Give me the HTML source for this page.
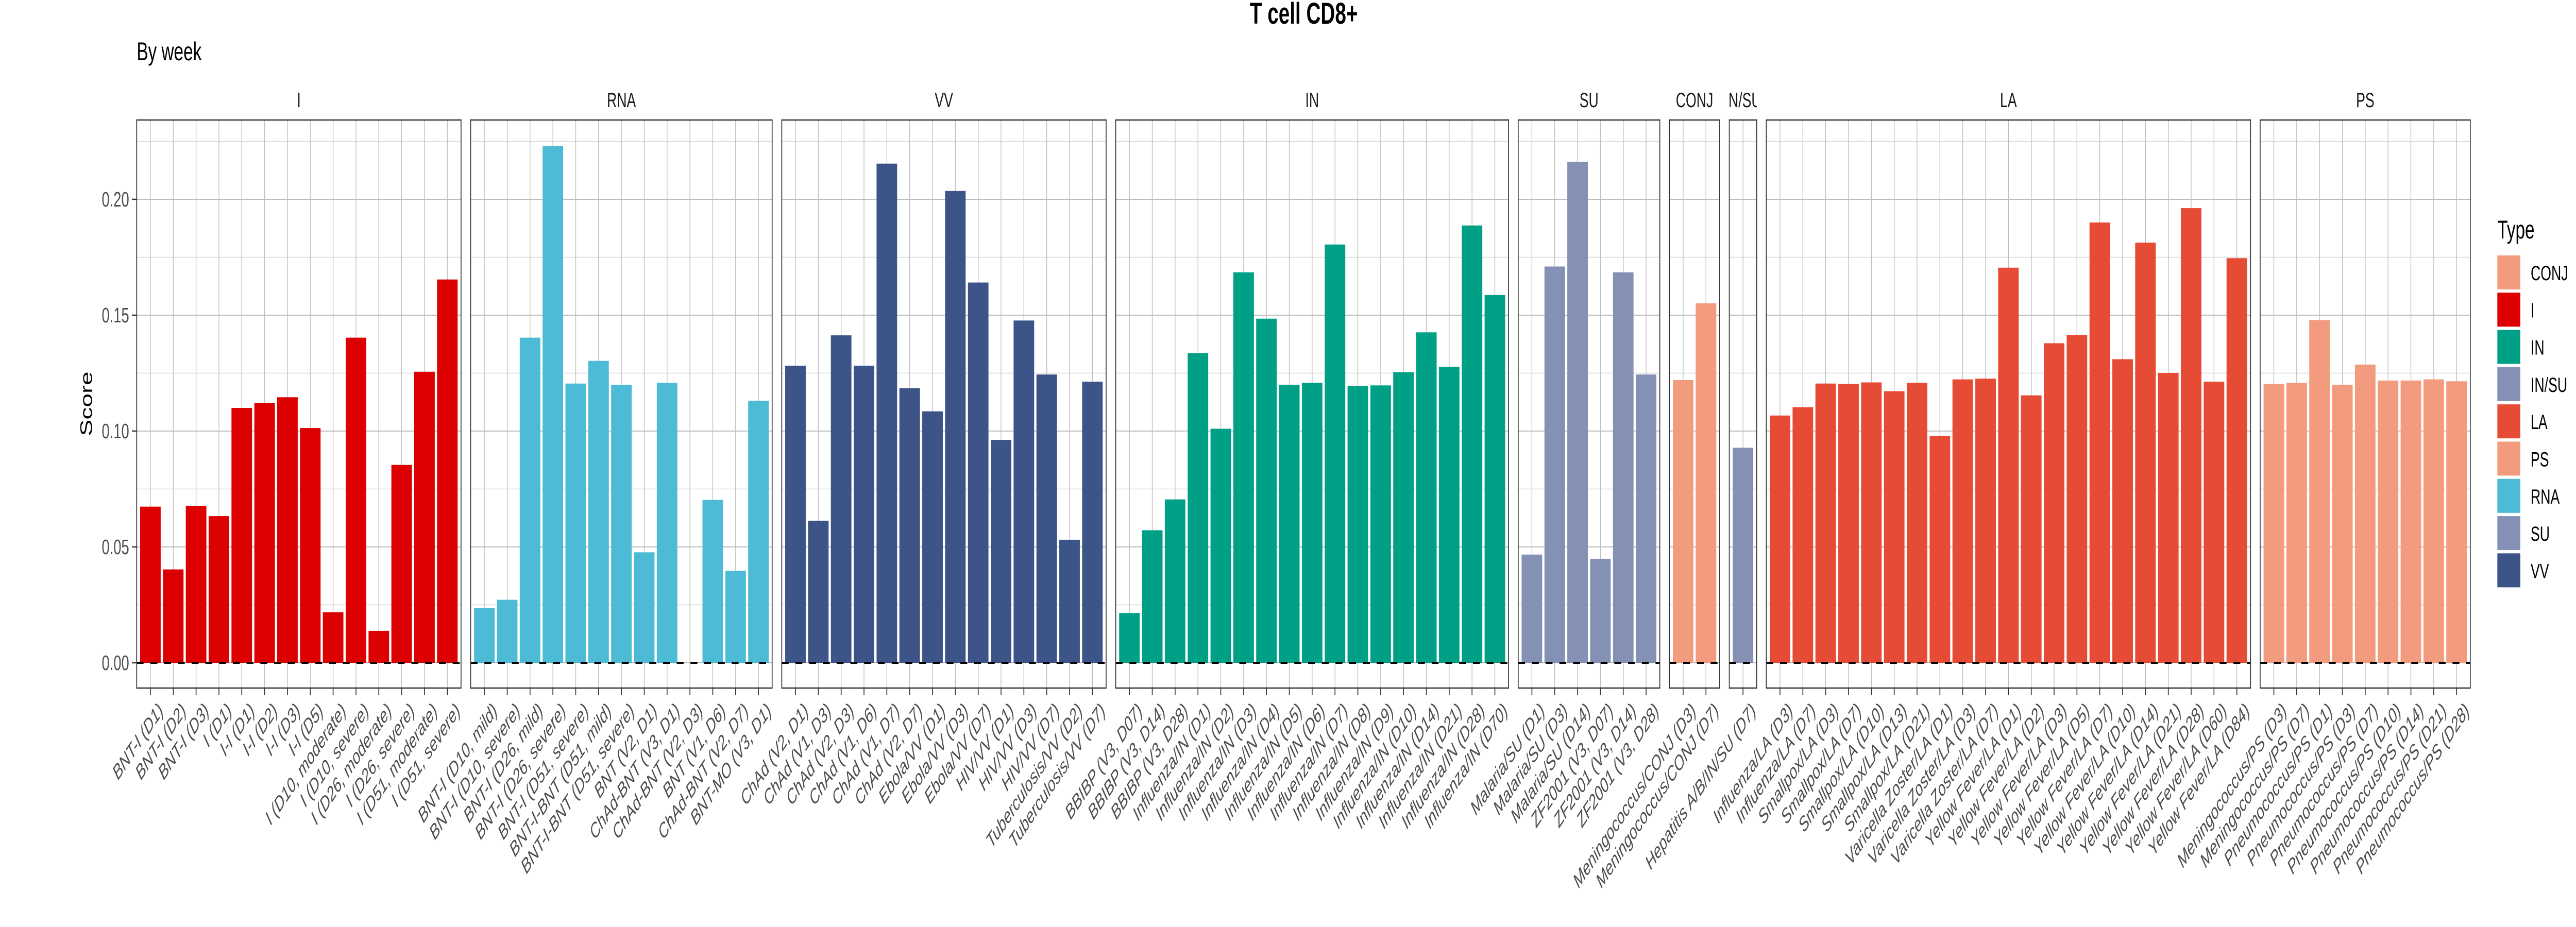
<!DOCTYPE html>
<html><head><meta charset="utf-8"><style>
html,body{margin:0;padding:0;background:#fff;width:100%;height:100%;overflow:hidden;}
svg{display:block;font-family:"Liberation Sans",sans-serif;width:100vw;height:100vh;}
</style></head><body>
<svg id="chart" xmlns="http://www.w3.org/2000/svg" viewBox="0 0 7500 1800" preserveAspectRatio="none">
<rect x="0" y="0" width="7500" height="1800" fill="#fff"/>
<text x="3796" y="46" text-anchor="middle" font-size="58" font-weight="bold" fill="#000">T cell CD8+</text>
<text x="398" y="117" font-size="50" fill="#000">By week</text>
<text transform="translate(268,784) rotate(-90)" text-anchor="middle" font-size="48" fill="#000">Score</text>
<g id="panels"></g>
<g id="legend"></g>
</svg>
<script>
const panelNames = ["I","RNA","VV","IN","SU","CONJ","IN/SU","LA","PS"];
const categoriesI = ["BNT-I (D1)","BNT-I (D2)","BNT-I (D3)","I (D1)","I-I (D1)","I-I (D2)","I-I (D3)","I-I (D5)","I (D10, moderate)","I (D10, severe)","I (D26, moderate)","I (D26, severe)","I (D51, moderate)","I (D51, severe)"];
const valuesI = [0.0674,0.0403,0.0677,0.0633,0.110,0.112,0.1146,0.1013,0.0218,0.1403,0.0138,0.0854,0.1256,0.1654];
const categoriesRNA = ["BNT-I (D10, mild)","BNT-I (D10, severe)","BNT-I (D26, mild)","BNT-I (D26, severe)","BNT-I (D51, severe)","BNT-I-BNT (D51, mild)","BNT-I-BNT (D51, severe)","BNT (V2, D1)","ChAd-BNT (V3, D1)","ChAd-BNT (V2, D3)","BNT (V1, D6)","ChAd-BNT (V2, D7)","BNT-MO (V3, D1)"];
const valuesRNA = [0.0236,0.0272,0.1403,0.2231,0.1205,0.1303,0.120,0.0477,0.1208,null,0.0703,0.0397,0.1131];
const categoriesVV = ["ChAd (V2, D1)","ChAd (V1, D3)","ChAd (V2, D3)","ChAd (V1, D6)","ChAd (V1, D7)","ChAd (V2, D7)","Ebola/VV (D1)","Ebola/VV (D3)","Ebola/VV (D7)","HIV/VV (D1)","HIV/VV (D3)","HIV/VV (D7)","Tuberculosis/VV (D2)","Tuberculosis/VV (D7)"];
const valuesVV = [0.1282,0.0613,0.1413,0.1282,0.2154,0.1185,0.1085,0.2036,0.1641,0.0962,0.1477,0.1244,0.0531,0.1213];
const categoriesIN = ["BBIBP (V3, D07)","BBIBP (V3, D14)","BBIBP (V3, D28)","Influenza/IN (D1)","Influenza/IN (D2)","Influenza/IN (D3)","Influenza/IN (D4)","Influenza/IN (D5)","Influenza/IN (D6)","Influenza/IN (D7)","Influenza/IN (D8)","Influenza/IN (D9)","Influenza/IN (D10)","Influenza/IN (D14)","Influenza/IN (D21)","Influenza/IN (D28)","Influenza/IN (D70)"];
const valuesIN = [0.0215,0.0572,0.0705,0.1336,0.101,0.1685,0.1485,0.120,0.1208,0.1805,0.1195,0.1197,0.1254,0.1426,0.1277,0.1887,0.1587];
const categoriesSU = ["Malaria/SU (D1)","Malaria/SU (D3)","Malaria/SU (D14)","ZF2001 (V3, D07)","ZF2001 (V3, D14)","ZF2001 (V3, D28)"];
const valuesSU = [0.0467,0.171,0.2162,0.0449,0.1685,0.1244];
const categoriesCONJ = ["Meningococcus/CONJ (D3)","Meningococcus/CONJ (D7)"];
const valuesCONJ = [0.122,0.1551];
const categoriesINSU = ["Hepatitis A/B/IN/SU (D7)"];
const valuesINSU = [0.0928];
const categoriesLA = ["Influenza/LA (D3)","Influenza/LA (D7)","Smallpox/LA (D3)","Smallpox/LA (D7)","Smallpox/LA (D10)","Smallpox/LA (D13)","Smallpox/LA (D21)","Varicella Zoster/LA (D1)","Varicella Zoster/LA (D3)","Varicella Zoster/LA (D7)","Yellow Fever/LA (D1)","Yellow Fever/LA (D2)","Yellow Fever/LA (D3)","Yellow Fever/LA (D5)","Yellow Fever/LA (D7)","Yellow Fever/LA (D10)","Yellow Fever/LA (D14)","Yellow Fever/LA (D21)","Yellow Fever/LA (D28)","Yellow Fever/LA (D60)","Yellow Fever/LA (D84)"];
const valuesLA = [0.1067,0.1103,0.1205,0.1203,0.121,0.1172,0.1208,0.0979,0.1223,0.1226,0.1705,0.1154,0.1379,0.1415,0.190,0.131,0.1813,0.1251,0.1962,0.1213,0.1746];
const categoriesPS = ["Meningococcus/PS (D3)","Meningococcus/PS (D7)","Pneumococcus/PS (D1)","Pneumococcus/PS (D3)","Pneumococcus/PS (D7)","Pneumococcus/PS (D10)","Pneumococcus/PS (D14)","Pneumococcus/PS (D21)","Pneumococcus/PS (D28)"];
const valuesPS = [0.1203,0.1208,0.1479,0.120,0.1287,0.1218,0.1218,0.1223,0.1215];
const yTicks = [0, 0.05, 0.10, 0.15, 0.20];
const yTickLabels = ["0.00","0.05","0.10","0.15","0.20"];
const yMinor = [0.025, 0.075, 0.125, 0.175, 0.225];
const legendTypes = ["CONJ","I","IN","IN/SU","LA","PS","RNA","SU","VV"];

const typeColors = {"CONJ":"#F39B7F","I":"#DC0000","IN":"#00A087","IN/SU":"#8491B4","LA":"#E64B35","PS":"#F39B7F","RNA":"#4DBBD5","SU":"#8491B4","VV":"#3C5488"};
const panelData = [[categoriesI,valuesI],[categoriesRNA,valuesRNA],[categoriesVV,valuesVV],[categoriesIN,valuesIN],[categoriesSU,valuesSU],[categoriesCONJ,valuesCONJ],[categoriesINSU,valuesINSU],[categoriesLA,valuesLA],[categoriesPS,valuesPS]];

const NS = "http://www.w3.org/2000/svg";
const X0 = 398, U = 66.5, GAP = 28, PTOP = 233, PBOT = 1336;
const yScale = v => 1287 - v * 4500;
function mk(tag, attrs, parent){ const e = document.createElementNS(NS, tag); for (const k in attrs) e.setAttribute(k, attrs[k]); parent.appendChild(e); return e; }
const root = document.getElementById("panels");

const yax = mk("g", {}, root);


yTicks.forEach((t, i) => {
  const y = yScale(t);
  const tk = mk("line", {x1: X0-14, x2: X0, y1: y, y2: y, stroke: "#333", "stroke-width": 2.5}, yax);
  
  
  const tl = mk("text", {x: X0-22, y: y+14, "text-anchor": "end", "font-size": 41, fill: "#4D4D4D"}, yax);
  tl.textContent = yTickLabels[i];
  
  
});

let px = X0;
panelNames.forEach((name, p) => {
  const cats = panelData[p][0], vals = panelData[p][1];
  const n = cats.length, w = (n + 0.2) * U;
  const g = mk("g", {}, root);
  
  
  const clipId = "clip" + p;
  const cp = mk("clipPath", {id: clipId}, g);
  mk("rect", {x: px, y: 150, width: w, height: 80}, cp);
  const st = mk("text", {x: px + w/2, y: 208, "text-anchor": "middle", "font-size": 40, fill: "#1A1A1A", "clip-path": "url(#" + clipId + ")"}, g);
  st.textContent = name;
  
  
  yMinor.forEach(t => {
    const gl = mk("line", {x1: px, x2: px + w, y1: yScale(t), y2: yScale(t), stroke: "#D6D6D6", "stroke-width": 1.5}, g);
    
    
  });
  yTicks.forEach(t => {
    const gl = mk("line", {x1: px, x2: px + w, y1: yScale(t), y2: yScale(t), stroke: "#BDBDBD", "stroke-width": 2}, g);
    
    
  });
  const xc = i => px + (0.6 + i) * U;
  cats.forEach((c, i) => {
    const vg = mk("line", {x1: xc(i), x2: xc(i), y1: PTOP, y2: PBOT, stroke: "#BDBDBD", "stroke-width": 2}, g);
    
    
  });
  cats.forEach((c, i) => {
    const v = vals[i];
    if (v !== null && v !== undefined) {
      const b = mk("rect", {x: xc(i) - 0.45*U, y: yScale(v), width: 0.9*U, height: yScale(0) - yScale(v), fill: typeColors[name]}, g);
      
      
    }
    const tk = mk("line", {x1: xc(i), x2: xc(i), y1: PBOT, y2: PBOT + 14, stroke: "#333", "stroke-width": 2.5}, g);
    
    
    const ax = xc(i) + 20, ay = 1362;
    const tl = mk("text", {x: ax, y: ay, "text-anchor": "end", "dominant-baseline": "hanging", "font-size": 40, "font-style": "italic", fill: "#4D4D4D", transform: "rotate(-45 " + ax + " " + ay + ")"}, g);
    tl.textContent = c;
    
    
  });
  const dl = mk("line", {x1: px, x2: px + w, y1: yScale(0), y2: yScale(0), stroke: "#000", "stroke-width": 4, "stroke-dasharray": "20 20"}, g);
  
  
  const br = mk("rect", {x: px, y: PTOP, width: w, height: PBOT - PTOP, fill: "none", stroke: "#333", "stroke-width": 2.5}, g);
  
  
  px += w + GAP;
});

const lg = document.getElementById("legend");
const lt = mk("text", {x: 7271, y: 463, "font-size": 50, fill: "#000"}, lg);
lt.textContent = "Type";


legendTypes.forEach((t, i) => {
  const y = 496 + i * 72.3;
  const k = mk("rect", {x: 7271, y: y, width: 67, height: 66, fill: typeColors[t]}, lg);
  
  
  const l = mk("text", {x: 7368, y: y + 48, "font-size": 40, fill: "#000"}, lg);
  l.textContent = t;
  
  
});
</script>
</body></html>
